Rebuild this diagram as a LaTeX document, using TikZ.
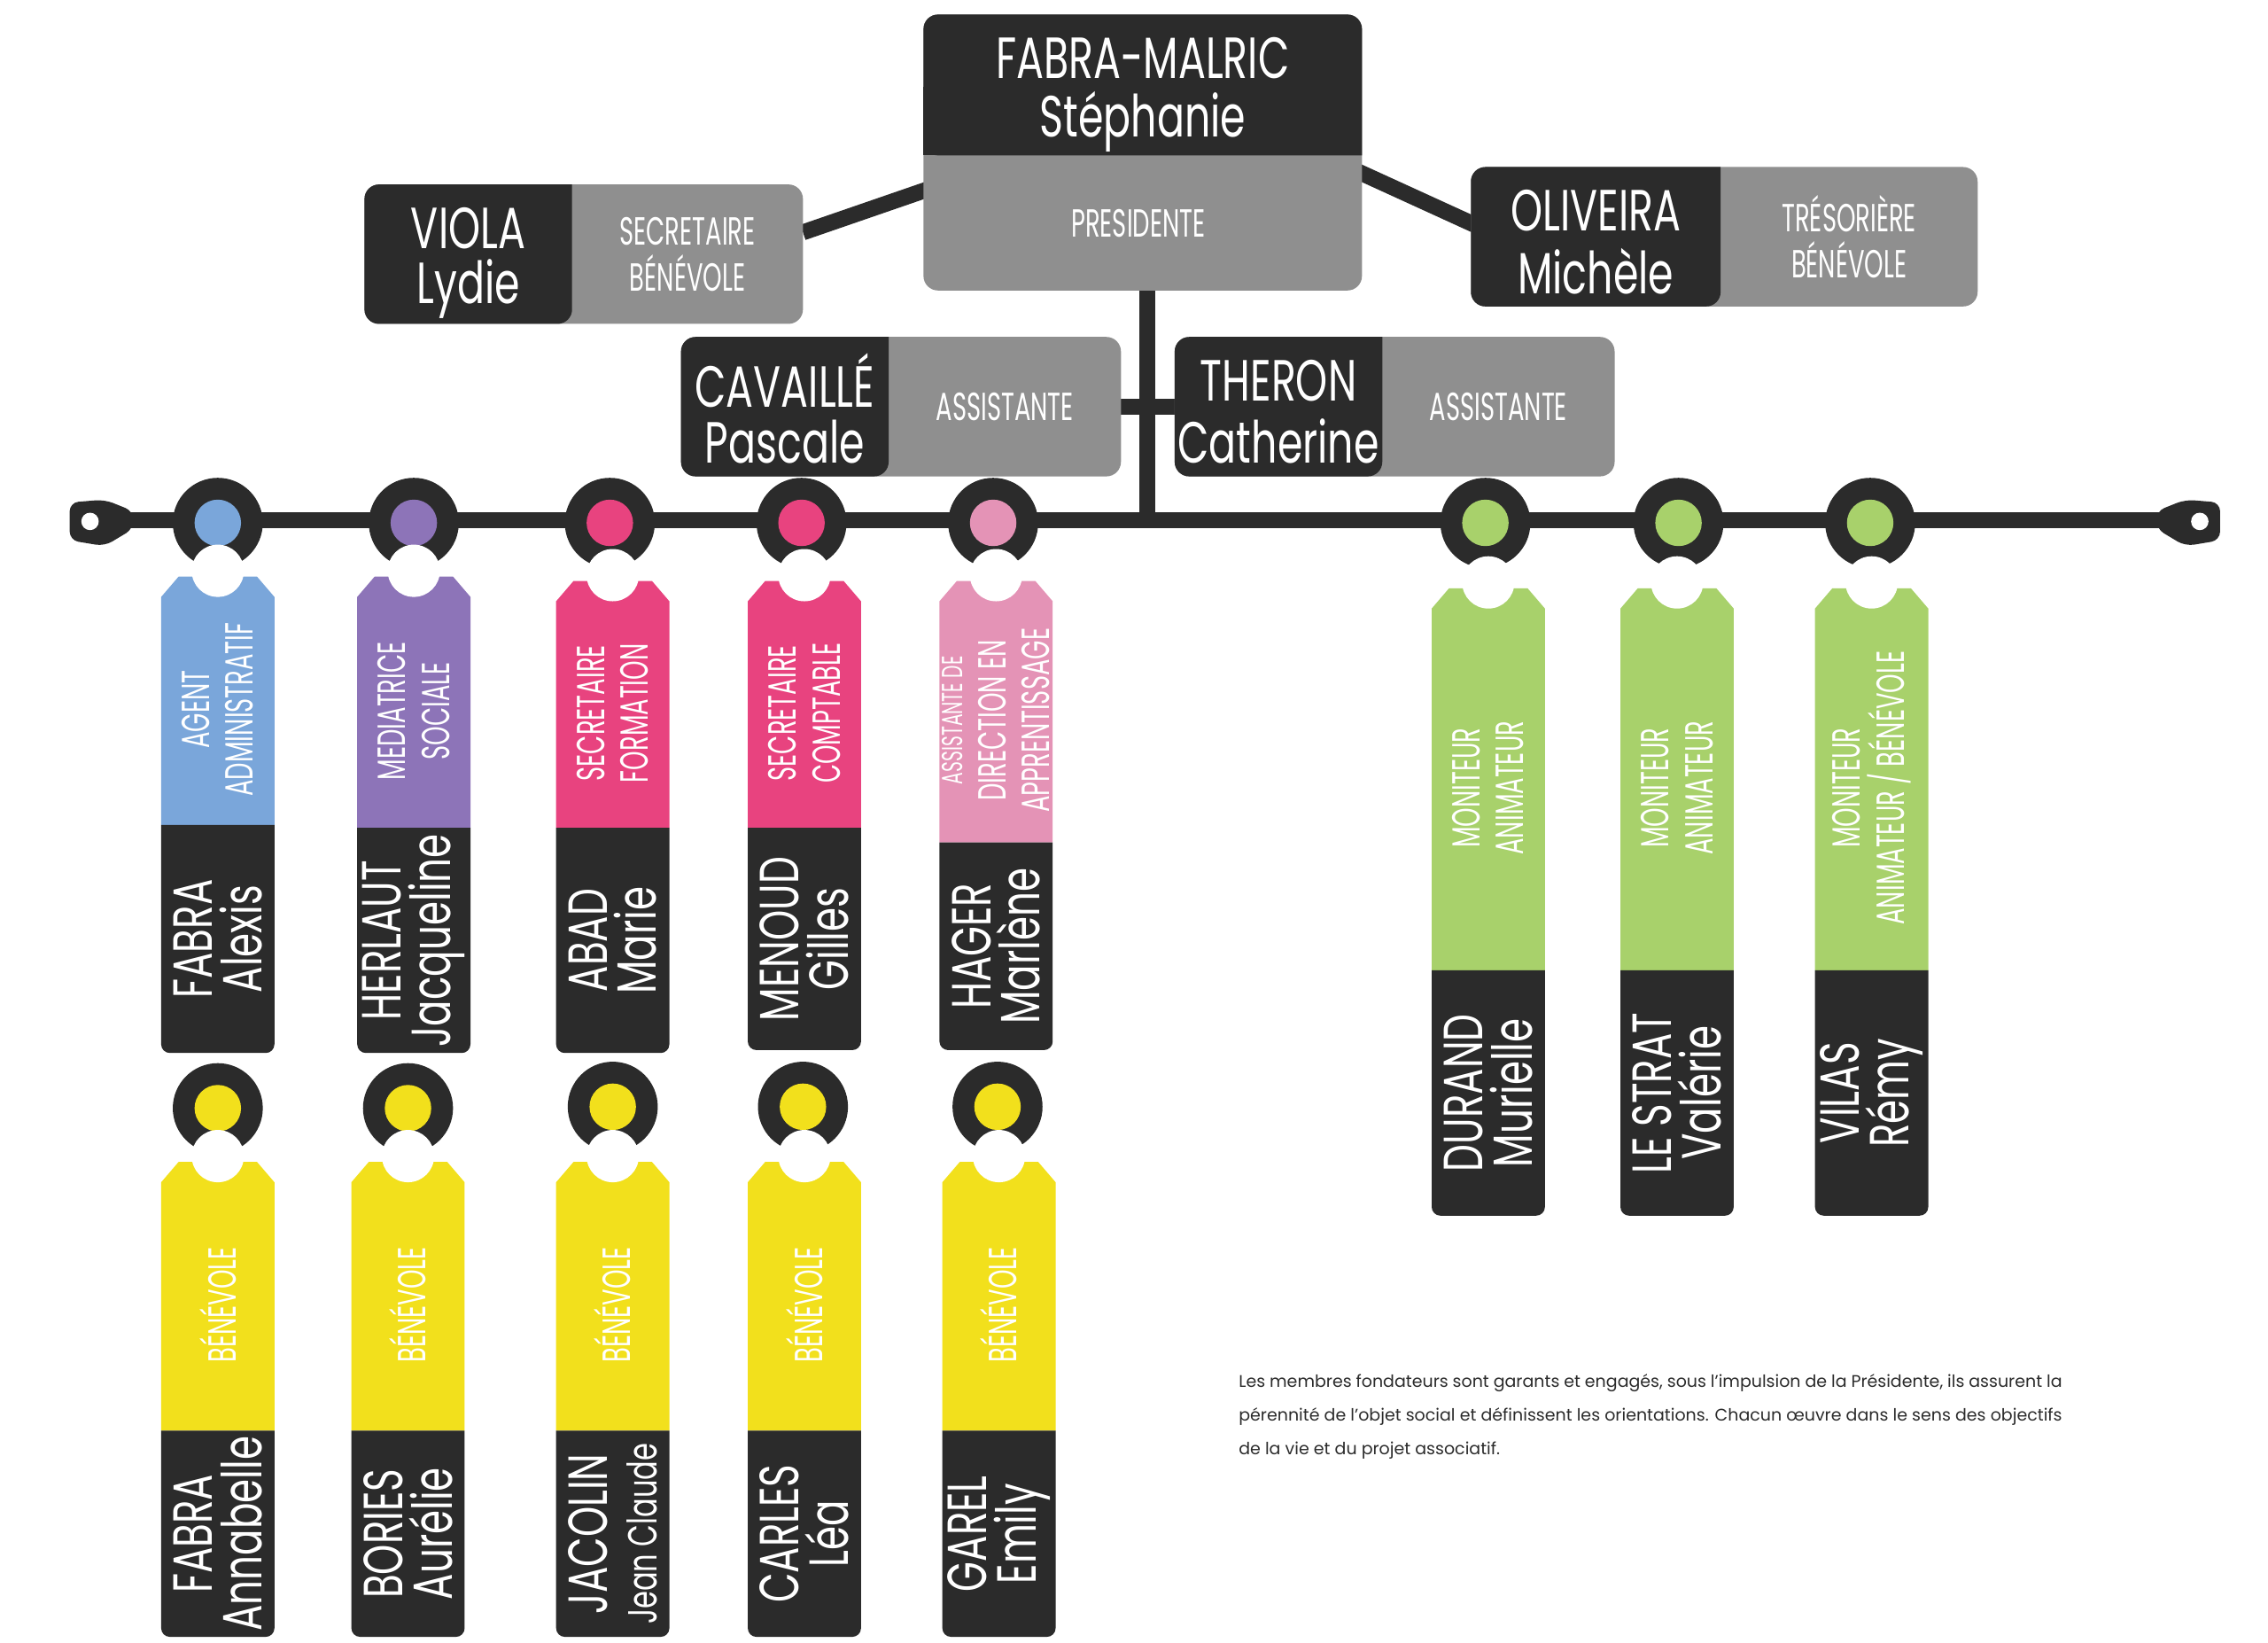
\documentclass[tikz,border=0pt]{standalone}
\usepackage{fontspec}
\setmainfont{Poppins}
\usepackage{graphicx}
\definecolor{dk}{HTML}{2B2B2B}
\definecolor{gr}{HTML}{8F8F8F}
\definecolor{cb}{HTML}{7AA6DA}
\definecolor{cp}{HTML}{8D74B8}
\definecolor{ck}{HTML}{E8437F}
\definecolor{cl}{HTML}{E493B6}
\definecolor{cg}{HTML}{A8D16B}
\definecolor{cy}{HTML}{F2E01C}
\newcommand\cz[1]{\scalebox{0.62}[1]{#1}}
\newcommand\cn[1]{\scalebox{0.7}[1]{#1}}
\tikzset{
 lbl/.style={text=white,align=center,inner sep=0pt},
 nmA/.style={lbl,font=\fontsize{40}{40}\selectfont},
 nmB/.style={lbl,font=\fontsize{27}{32}\selectfont},
 tnm/.style={lbl,rotate=90,font=\fontsize{38}{34}\selectfont},
 tlb/.style={lbl,rotate=90,font=\fontsize{27}{30}\selectfont},
 bar/.style={draw=dk,line width=11pt},
}
% tag: cx, top, mid, bottom, colour, label, name
\newcommand\mytag[7]{%
 \fill[#5] ({#1-39},{#2+14}) -- ({#1-27},#2) -- ({#1+27},#2) -- ({#1+39},{#2+14}) -- ({#1+39},#3) -- ({#1-39},#3) -- cycle;
 \fill[white] (#1,{#2-4}) circle (18);
 \fill[dk] ({#1-39},#3) [rounded corners=6]-- ({#1-39},#4) -- ({#1+39},#4) [sharp corners]-- ({#1+39},#3) -- cycle;
 \node[tlb] at (#1,{(#2+#3)/2+6}) {#6};
 \node[tnm] at (#1,{(#3+#4)/2}) {#7};
}
\newcommand\ring[3]{%
 \fill[dk] (#1,#2) circle (31);
 \fill[#3] (#1,#2) circle (16);
}
\newcommand\sidebox[8]{% x1 y1 xm x2 y2 surname first role
 \fill[gr,rounded corners=10] (#1,#2) rectangle (#4,#5);
 \fill[dk,rounded corners=10] (#3,#2) -- (#1,#2) -- (#1,#5) -- (#3,#5) [sharp corners] -- cycle;
 \node[nmA] at ({(#1+#3)/2},{#2+30}) {\cn{#6}};
 \node[nmA] at ({(#1+#3)/2},{#2+72}) {\cn{#7}};
 \node[nmB] at ({(#3+#4)/2},{(#2+#5)/2}) {#8};
}
\begin{document}
\begin{tikzpicture}[x=1pt,y=-1pt]
\useasboundingbox (0,0) rectangle (1562,1131);
% connectors
\draw[bar] (553,160) -- (640,130);
\draw[bar] (935,118) -- (1016,155);
\draw[bar] (790,195) -- (790,358);
\draw[bar] (770,280) -- (812,280);
\draw[bar] (60,358) -- (1515,358);
% end caps
\foreach \ex/\d in {62/1,1515/-1}{
 \fill[dk,rounded corners=6] ({\ex-14*\d},346) -- ({\ex+10*\d},344) -- ({\ex+30*\d},352) -- ({\ex+30*\d},364) -- ({\ex+10*\d},376) -- ({\ex-14*\d},372) -- cycle;
 \fill[white] (\ex,359) circle (6);
}
% top box
\fill[gr,rounded corners=10] (636,10) rectangle (938,200);
\fill[dk,rounded corners=10] (636,10) -- (636,107) [sharp corners]-- (938,107) [rounded corners=10]-- (938,10) -- cycle;
\fill[dk] (636,60) rectangle (938,107);
\node[nmA] (pres) at (787,40) {\cn{FABRA-MALRIC}};
\node[nmA] at (787,84) {\cn{Stéphanie}};
\node[nmB] at (784,154) {\cz{PRESIDENTE}};
% side boxes
\sidebox{251}{127}{394}{553}{223}{VIOLA}{Lydie}{\cz{SECRETAIRE}\\\cz{BÉNÉVOLE}}
\sidebox{1013}{115}{1185}{1362}{211}{OLIVEIRA}{Michèle}{\cz{TRÉSORIÈRE}\\\cz{BÉNÉVOLE}}
\sidebox{469}{232}{612}{772}{328}{CAVAILLÉ}{Pascale}{\cz{ASSISTANTE}}
\sidebox{809}{232}{952}{1112}{328}{THERON}{Catherine}{\cz{ASSISTANTE}}
% line rings
\ring{150}{360}{cb}\ring{285}{360}{cp}\ring{420}{360}{ck}\ring{552}{360}{ck}\ring{684}{360}{cl}
\ring{1023}{360}{cg}\ring{1156}{360}{cg}\ring{1288}{360}{cg}
% tags row 1
\mytag{150}{397}{568}{725}{cb}{\cz{AGENT}\\\cz{ADMINISTRATIF}}{\cn{FABRA}\\\cn{Alexis}}
\mytag{285}{397}{570}{725}{cp}{\cz{MEDIATRICE}\\\cz{SOCIALE}}{\cn{HERLAUT}\\\cn{Jacqueline}}
\mytag{422}{400}{570}{725}{ck}{\cz{SECRETAIRE}\\\cz{FORMATION}}{\cn{ABAD}\\\cn{Marie}}
\mytag{554}{400}{570}{723}{ck}{\cz{SECRETAIRE}\\\cz{COMPTABLE}}{\cn{MENOUD}\\\cn{Gilles}}
\mytag{686}{400}{580}{723}{cl}{\fontsize{20}{24}\selectfont\cz{ASSISTANTE DE}\\\cz{DIRECTION EN}\\\cz{APPRENTISSAGE}}{\cn{HAGER}\\\cn{Marlène}}
\mytag{1025}{405}{668}{837}{cg}{\cz{MONITEUR}\\\cz{ANIMATEUR}}{\cn{DURAND}\\\cn{Murielle}}
\mytag{1155}{405}{668}{837}{cg}{\cz{MONITEUR}\\\cz{ANIMATEUR}}{\cn{LE STRAT}\\\cn{Valérie}}
\mytag{1289}{405}{668}{837}{cg}{\cz{MONITEUR}\\\cz{ANIMATEUR / BÉNÉVOLE}}{\cn{VILAS}\\\cn{Rémy}}
% yellow row
\ring{150}{763}{cy}\ring{281}{763}{cy}\ring{422}{762}{cy}\ring{553}{762}{cy}\ring{687}{762}{cy}
\mytag{150}{800}{985}{1127}{cy}{\cz{BÉNÉVOLE}}{\cn{FABRA}\\\cn{Annabelle}}
\mytag{281}{800}{985}{1127}{cy}{\cz{BÉNÉVOLE}}{\cn{BORIES}\\\cn{Aurélie}}
\mytag{422}{800}{985}{1127}{cy}{\cz{BÉNÉVOLE}}{\cn{JACOLIN}\\\fontsize{28}{30}\selectfont\cn{Jean Claude}}
\mytag{554}{800}{985}{1127}{cy}{\cz{BÉNÉVOLE}}{\cn{CARLES}\\\cn{Léa}}
\mytag{688}{800}{985}{1127}{cy}{\cz{BÉNÉVOLE}}{\cn{GAREL}\\\cn{Emily}}
% footer
\node[anchor=north west,inner sep=0pt,text width=567pt,align=justify,text=dk,font=\fontsize{11.6}{23}\selectfont] (foot) at (853,946)
{Les membres fondateurs sont garants et engagés, sous l'impulsion de la Présidente, ils assurent la pérennité de l'objet social et définissent les orientations. Chacun œuvre dans le sens des objectifs de la vie et du projet associatif.};
\end{tikzpicture}
\end{document}
